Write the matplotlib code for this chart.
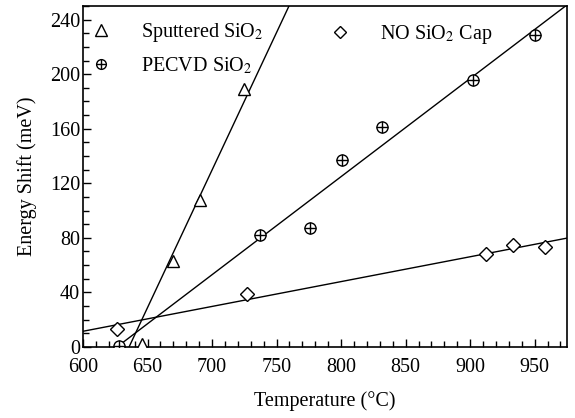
import numpy as np
import matplotlib
matplotlib.use("Agg")
import matplotlib.pyplot as plt
from matplotlib.lines import Line2D
from matplotlib.ticker import MultipleLocator

plt.rcParams['font.family'] = ['Liberation Serif', 'DejaVu Serif']
plt.rcParams['mathtext.fontset'] = 'stix'

temp_sput = [626, 646, 670, 691, 725]
shift_sput = [0, 2, 63, 108, 189]

temp_pecvd = [628, 737, 776, 801, 832, 902, 950]
shift_pecvd = [1, 82, 87, 137, 161, 196, 229]

temp_cap = [626, 727, 912, 933, 958]
shift_cap = [13, 39, 68, 75, 73]

fig = plt.figure(figsize=(5.75, 4.18), dpi=100)
ax = fig.add_axes([0.1443, 0.170, 0.8417, 0.8156])

t = np.linspace(600, 975, 400)

# ajustes lineales
for xs, ys in [(temp_sput, shift_sput), (temp_pecvd, shift_pecvd), (temp_cap, shift_cap)]:
    m, b = np.polyfit(xs, ys, 1)
    ax.plot(t, m * t + b, color='black', lw=1.0, zorder=2)

ax.plot(temp_sput, shift_sput, linestyle='none', marker='^', ms=9, mfc='white',
        mec='black', mew=1.0, zorder=3)
ax.plot(temp_pecvd, shift_pecvd, linestyle='none', marker='o', ms=8, mfc='white',
        mec='black', mew=1.0, zorder=3)
ax.plot(temp_pecvd, shift_pecvd, linestyle='none', marker='+', ms=8, mec='black',
        mew=1.0, zorder=4)
ax.plot(temp_cap, shift_cap, linestyle='none', marker='D', ms=7, mfc='white',
        mec='black', mew=1.0, zorder=3)

ax.set_xlim(600, 975)
ax.set_ylim(0, 250)
ax.xaxis.set_major_locator(MultipleLocator(50))
ax.xaxis.set_minor_locator(MultipleLocator(10))
ax.yaxis.set_major_locator(MultipleLocator(40))
ax.yaxis.set_minor_locator(MultipleLocator(10))
ax.tick_params(which='both', direction='in', top=False, right=False, labelsize=14.5,
               width=1.0)
ax.tick_params(which='major', length=6)
ax.tick_params(which='minor', length=4)
ax.tick_params(axis='x', which='major', pad=8)
ax.tick_params(axis='y', which='major', pad=2)
for s in ax.spines.values():
    s.set_linewidth(1.2)

ax.set_xlabel('Temperature (°C)', fontsize=14.5, labelpad=10)
ax.set_ylabel('Energy Shift (meV)', fontsize=14.5, labelpad=9)

# leyendas
h_sput = Line2D([], [], linestyle='none', marker='^', ms=8, mfc='white', mec='black')
h_circ = Line2D([], [], linestyle='none', marker='o', ms=7, mfc='white', mec='black')
h_plus = Line2D([], [], linestyle='none', marker='+', ms=7, mec='black')
h_cap = Line2D([], [], linestyle='none', marker='D', ms=6, mfc='white', mec='black')

leg1 = ax.legend([h_sput, (h_circ, h_plus)], ['Sputtered SiO$_2$', 'PECVD SiO$_2$'],
                 loc='upper left', bbox_to_anchor=(0.0, 0.979), frameon=False,
                 fontsize=14.5, handlelength=1.0, handletextpad=1.5,
                 borderaxespad=0.0, borderpad=0.4, labelspacing=0.55)
ax.add_artist(leg1)
ax.legend([h_cap], ['NO SiO$_2$ Cap'], loc='upper left', bbox_to_anchor=(0.493, 0.974),
          frameon=False, fontsize=14.5, handlelength=1.0, handletextpad=1.5,
          borderaxespad=0.0, borderpad=0.4)

fig.savefig('out.png', dpi=100)
